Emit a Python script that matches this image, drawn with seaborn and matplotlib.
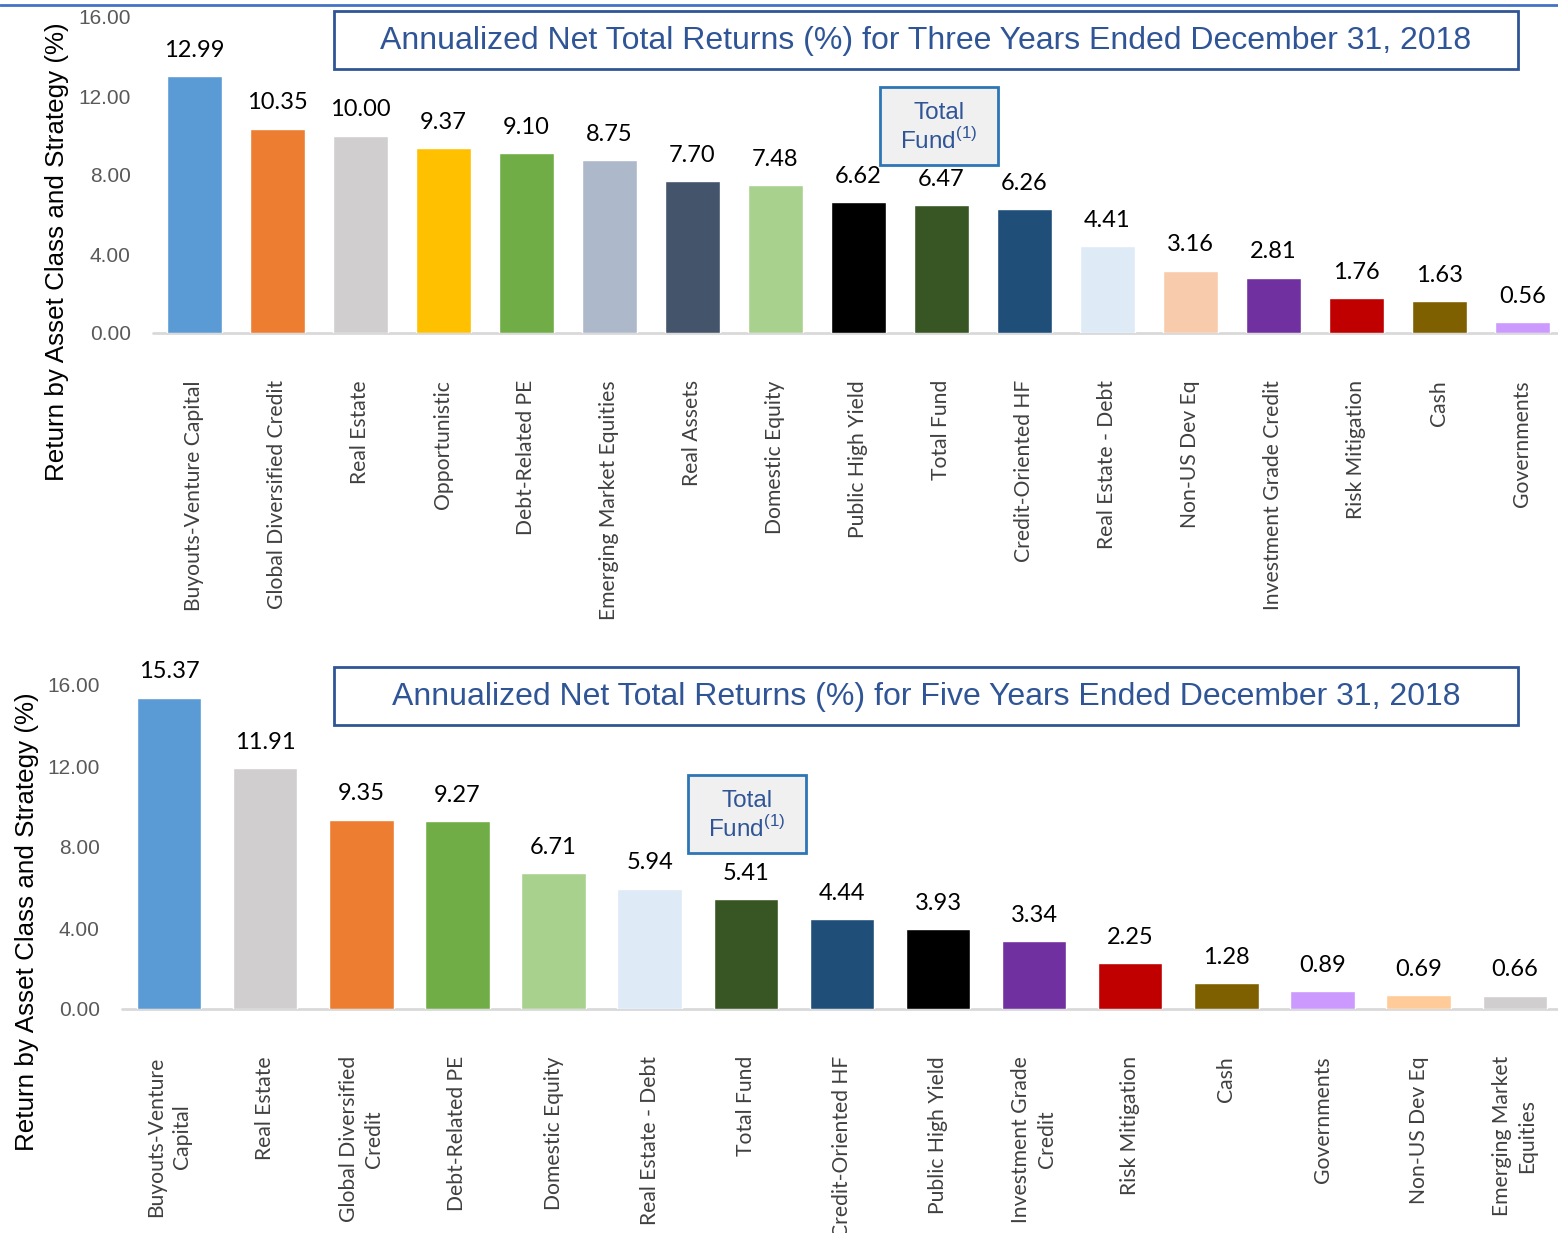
import matplotlib
matplotlib.use("Agg")
import matplotlib.pyplot as plt
import seaborn as sns
import pandas as pd

sns.set_theme(style="white")
plt.rcParams["font.family"] = ["Liberation Sans", "DejaVu Sans"]
plt.rcParams["mathtext.fontset"] = "custom"
plt.rcParams["mathtext.sf"] = "Liberation Sans"
plt.rcParams["mathtext.rm"] = "Liberation Sans"

# ---- data: three years ----
cats_3y = ["Buyouts-Venture Capital", "Global Diversified Credit", "Real Estate",
           "Opportunistic", "Debt-Related PE", "Emerging Market Equities",
           "Real Assets", "Domestic Equity", "Public High Yield", "Total Fund",
           "Credit-Oriented HF", "Real Estate - Debt", "Non-US Dev Eq",
           "Investment Grade Credit", "Risk Mitigation", "Cash", "Governments"]
vals_3y = [12.99, 10.35, 10.00, 9.37, 9.10, 8.75, 7.70, 7.48, 6.62, 6.47,
           6.26, 4.41, 3.16, 2.81, 1.76, 1.63, 0.56]
colors_3y = ["#5B9BD5", "#ED7D31", "#D0CECE", "#FFC000", "#70AD47", "#ADB9CA",
             "#44546A", "#A9D18E", "#000000", "#375623", "#1F4E79", "#DEEBF7",
             "#F8CBAD", "#7030A0", "#C00000", "#7F6000", "#CC99FF"]

# ---- data: five years ----
cats_5y = ["Buyouts-Venture\nCapital", "Real Estate", "Global Diversified\nCredit",
           "Debt-Related PE", "Domestic Equity", "Real Estate - Debt", "Total Fund",
           "Credit-Oriented HF", "Public High Yield", "Investment Grade\nCredit",
           "Risk Mitigation", "Cash", "Governments", "Non-US Dev Eq",
           "Emerging Market\nEquities"]
vals_5y = [15.37, 11.91, 9.35, 9.27, 6.71, 5.94, 5.41, 4.44, 3.93, 3.34,
           2.25, 1.28, 0.89, 0.69, 0.66]
colors_5y = ["#5B9BD5", "#D0CECE", "#ED7D31", "#70AD47", "#A9D18E", "#DEEBF7",
             "#375623", "#1F4E79", "#000000", "#7030A0", "#C00000", "#7F6000",
             "#CC99FF", "#FFCC99", "#D0CECE"]

yticks = [0, 4, 8, 12, 16]
ylabel = "Return by Asset Class and Strategy (%)"
title_3y = "Annualized Net Total Returns (%) for Three Years Ended December 31, 2018"
title_5y = "Annualized Net Total Returns (%) for Five Years Ended December 31, 2018"

W, H = 1558, 1233
fig = plt.figure(figsize=(W / 100, H / 100), dpi=100)

BLUE = "#2F5597"
LABEL_FONT = ["Lato", "DejaVu Sans"]


def px_axes(left, top, right, bottom):
    return fig.add_axes([left / W, 1 - bottom / H, (right - left) / W, (bottom - top) / H])


def draw_panel(ax, cats, vals, colors, xlim, title, title_box, tf_box):
    df = pd.DataFrame({"cat": cats, "val": vals})
    sns.barplot(data=df, x="cat", y="val", hue="cat", palette=colors,
                order=cats, hue_order=cats, legend=False, width=0.67,
                saturation=1, ax=ax)
    ax.set_xlim(*xlim)
    ax.set_ylim(0, 16)
    for s in ax.spines.values():
        s.set_visible(False)
    ax.axhline(0, color="#D9D9D9", lw=2, clip_on=False, zorder=0)
    ax.set_yticks(yticks)
    ax.set_yticklabels([f"{t:.2f}" for t in yticks], fontsize=15, color="#595959")
    ax.tick_params(axis="y", length=0, pad=16)
    ax.tick_params(axis="x", length=0, pad=34)
    ax.set_xticks(range(len(cats)))
    ax.set_xticklabels(cats, rotation=90, fontsize=15.2, color="#404040",
                       family=LABEL_FONT, va="top", ha="center",
                       multialignment="center", linespacing=1.35)
    ax.set_xlabel("")
    ax.set_ylabel("")
    for i, v in enumerate(vals):
        ax.annotate(f"{v:.2f}", (i, v), xytext=(0, 11), textcoords="offset points",
                    ha="center", va="bottom", fontsize=17, color="#000000",
                    family=LABEL_FONT, annotation_clip=False)
    # title box
    l, t, r, b = title_box
    fig.patches.append(plt.Rectangle((l / W, 1 - b / H), (r - l) / W, (b - t) / H,
                                     transform=fig.transFigure, fill=False,
                                     edgecolor=BLUE, lw=2))
    fig.text((l + r) / 2 / W, 1 - (t + b + 2) / 2 / H, title, ha="center",
             va="center", fontsize=23, color=BLUE)
    # total fund box
    l, t, r, b = tf_box
    fig.patches.append(plt.Rectangle((l / W, 1 - b / H), (r - l) / W, (b - t) / H,
                                     transform=fig.transFigure, facecolor="#F0F0F0",
                                     edgecolor="#2E75B6", lw=2))
    cx = (l + r) / 2 / W
    fig.text(cx, 1 - (t + 26) / H, "Total", ha="center", va="center",
             fontsize=17.5, color=BLUE)
    fig.text(cx, 1 - (t + 54) / H, r"Fund$^{\mathsf{(1)}}$", ha="center",
             va="center", fontsize=17.5, color=BLUE)


ax1 = px_axes(153, 17, 1558, 333)
draw_panel(ax1, cats_3y, vals_3y, colors_3y, (-0.5, 16.43), title_3y,
           (334, 11, 1518, 69), (880, 87, 998, 165))
fig.text(57 / W, 1 - 252 / H, ylabel, rotation=90, ha="center", va="center",
         fontsize=18.7, color="#000000")

ax2 = px_axes(122, 685, 1558, 1009)
draw_panel(ax2, cats_5y, vals_5y, colors_5y, (-0.49, 14.45), title_5y,
           (334, 667, 1518, 725), (688, 775, 806, 853))
fig.text(27 / W, 1 - 922 / H, ylabel, rotation=90, ha="center", va="center",
         fontsize=18.7, color="#000000")

# thin rule across the top
fig.add_artist(plt.Line2D([0, 1], [1 - 5 / H, 1 - 5 / H], transform=fig.transFigure,
                          color="#4472C4", lw=2))

fig.savefig("out.png", dpi=100)
